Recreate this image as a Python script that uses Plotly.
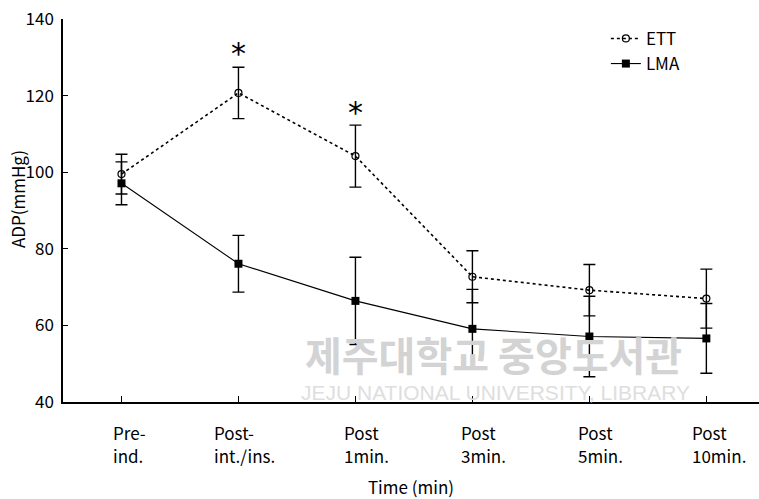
import plotly.graph_objects as go

cat_line1 = ["Pre-", "Post-", "Post", "Post", "Post", "Post"]
cat_line2 = ["ind.", "int./ins.", "1min.", "3min.", "5min.", "10min."]
ett_mean = [99.5, 120.7, 104.2, 72.7, 69.2, 67.0]
ett_err = [5.2, 6.7, 8.1, 6.8, 6.7, 7.7]
lma_mean = [97.1, 76.1, 66.4, 59.1, 57.1, 56.6]
lma_err = [5.6, 7.4, 11.4, 10.3, 10.5, 9.1]
star_idx = [1, 2]
star_y = [131.0, 115.5]
y_ticks = [40, 60, 80, 100, 120, 140]

FONT = "Noto Sans CJK KR, sans-serif"
xs = list(range(len(cat_line1)))

fig = go.Figure()
fig.add_trace(go.Scatter(
    x=xs, y=ett_mean, name="ETT", mode="lines+markers",
    line=dict(color="black", width=1.6, dash="dot"),
    marker=dict(symbol="circle-open", size=7, color="black", line=dict(width=1.2)),
    error_y=dict(type="data", array=ett_err, color="black", thickness=1.4, width=6),
))
fig.add_trace(go.Scatter(
    x=xs, y=lma_mean, name="LMA", mode="lines+markers",
    line=dict(color="black", width=1.1),
    marker=dict(symbol="square", size=8, color="black"),
    error_y=dict(type="data", array=lma_err, color="black", thickness=1.4, width=6),
))

# category labels: two lines, left aligned, block roughly centred on the tick
CHAR_W = 6.5
for i, (a, b) in enumerate(zip(cat_line1, cat_line2)):
    shift = -0.5 * CHAR_W * max(len(a), len(b)) + 3
    fig.add_annotation(x=i, y=0, xref="x", yref="paper", xanchor="left", yanchor="top",
                       xshift=shift, yshift=-16, text=a, showarrow=False,
                       font=dict(family=FONT, size=17, color="black"))
    fig.add_annotation(x=i, y=0, xref="x", yref="paper", xanchor="left", yanchor="top",
                       xshift=shift, yshift=-39, text=b, showarrow=False,
                       font=dict(family=FONT, size=17, color="black"))

for i, yv in zip(star_idx, star_y):
    fig.add_annotation(x=i, y=yv, xref="x", yref="y", text="*", showarrow=False,
                       font=dict(family="DejaVu Sans", size=30, color="black"))

# y-axis title
fig.add_annotation(x=-0.066, y=0.53, xref="paper", yref="paper", text="ADP(mmHg)",
                   textangle=-90, showarrow=False, xanchor="center", yanchor="middle",
                   font=dict(family=FONT, size=17, color="black"))

# watermark
fig.add_annotation(x=0.618, y=0.126, xref="paper", yref="paper", text="<b>제주대학교 중앙도서관</b>",
                   showarrow=False, xanchor="center", yanchor="middle",
                   font=dict(family="Noto Sans CJK KR", size=40, color="#d3d3d3"))
fig.add_annotation(x=0.622, y=0.026, xref="paper", yref="paper", text="JEJU NATIONAL UNIVERSITY, LIBRARY",
                   showarrow=False, xanchor="center", yanchor="middle",
                   font=dict(family="Liberation Sans", size=21, color="#dedede"))

fig.update_layout(
    width=759, height=499,
    margin=dict(l=63, r=0, t=19, b=97),
    paper_bgcolor="white", plot_bgcolor="white",
    font=dict(family=FONT, size=17, color="black"),
    showlegend=True,
    legend=dict(x=0.78, y=0.995, xanchor="left", yanchor="top", bgcolor="rgba(0,0,0,0)",
                font=dict(family=FONT, size=17), tracegroupgap=0, itemwidth=30),
    xaxis=dict(range=[-0.5, 5.45], tickvals=xs, ticktext=[""] * len(xs), showgrid=False,
               zeroline=False, showline=True, linecolor="black", linewidth=1.5,
               ticks="inside", ticklen=6, tickcolor="black",
               title=dict(text="Time (min)", standoff=76, font=dict(family=FONT, size=17))),
    yaxis=dict(range=[40, 140], tickvals=y_ticks, showgrid=False, zeroline=False,
               showline=True, linecolor="black", linewidth=1.5,
               ticks="inside", ticklen=5, tickcolor="black", ticklabelstandoff=4,
               tickfont=dict(family=FONT, size=17)),
)

fig.write_html("out.html")
